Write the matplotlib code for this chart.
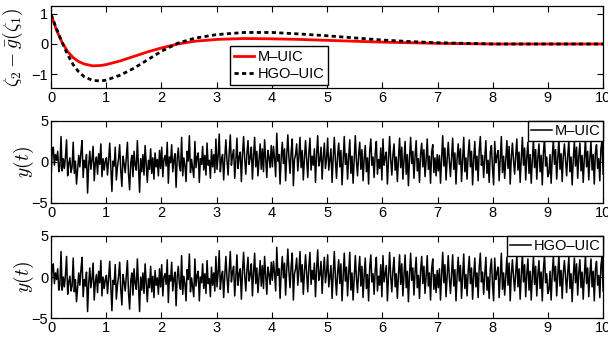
import matplotlib.pyplot as plt
import numpy as np

plt.rcParams['font.family'] = ['Liberation Sans', 'DejaVu Sans']
plt.rcParams['mathtext.fontset'] = 'cm'
plt.rcParams['axes.linewidth'] = 0.9

# top panel: zeta2 - g(zeta1)
t_top = [0, 0.1, 0.2, 0.3, 0.4, 0.5, 0.6, 0.75, 0.9, 1.0, 1.25, 1.5, 1.75, 2.0, 2.3, 2.6,
         3.0, 3.5, 4.0, 4.5, 5.0, 5.5, 6.0, 6.5, 7.0, 7.5, 8.0, 9.0, 10.0]
m_uic = [0.97, 0.45, 0.05, -0.25, -0.45, -0.58, -0.66, -0.72, -0.71, -0.68, -0.56, -0.41, -0.26,
         -0.13, 0.0, 0.09, 0.15, 0.18, 0.17, 0.15, 0.12, 0.09, 0.06, 0.04, 0.02, 0.01, 0.0, 0.0, 0.0]
hgo_uic = [0.97, 0.5, 0.05, -0.35, -0.68, -0.92, -1.08, -1.2, -1.22, -1.19, -1.03, -0.8, -0.52,
           -0.24, 0.03, 0.19, 0.31, 0.38, 0.38, 0.33, 0.27, 0.2, 0.13, 0.08, 0.04, 0.02, 0.0, 0.0, 0.0]

# output y(t), M-UIC (one row per second)
y_m = [
    -2.0, 1.2, 1.8, -0.4, 0.9, 0.2, 1.3, -1.2, -0.5, 3.1, -1.1, 0.4, -0.8, 0.6, 2.7, -1.7, -0.2, 0.5, -1.3, -0.6, 2.4, -1.4, 0.1, -2.7, -0.9, 0.8, -0.6, 1.2, 2.6, -1.9, 0.2, -0.7, 0.9, -3.8, -0.4, 1.3, -0.9, 0.3, 1.9, -2.3, -0.1, 0.6, -1.5, 1.0, -0.3, 2.2, -1.8, 0.4, -1.0, 0.1,
    0.5, -1.6, 0.2, 2.3, -0.8, -3.6, 0.1, -0.5, 1.8, -2.2, -0.6, 0.4, 2.1, -1.1, -3.0, 0.7, -0.2, -1.3, 0.6, 2.4, -1.5, -3.4, -0.1, 0.8, -1.8, 1.3, -0.4, -1.0, 2.6, -0.7, -3.7, 0.4, -1.2, 0.9, -1.6, 2.0, -0.3, -2.5, 0.2, -0.9, 1.6, -1.4, 0.5, -2.1, 1.1, -0.6, 0.3, -1.7, 1.4, -0.8,
    1.8, -1.8, 0.3, 0.8, -0.5, 2.4, -2.6, 0.6, -0.1, 2.1, -1.2, 0.2, 1.0, -3.1, 0.4, 1.7, -0.5, -1.1, 3.0, -1.7, 0.5, -0.4, -2.4, 1.3, 0.1, 3.2, -1.3, 0.3, -0.8, -1.9, 2.5, -0.7, 0.6, 1.1, -2.5, 0.4, -0.3, 1.9, -1.0, 0.8, -1.6, 2.3, -0.4, 0.2, -2.0, 1.5, -0.6, 0.9, -1.3, 2.8,
    -0.9, 0.7, 3.4, -1.2, 0.3, 0.9, -2.2, 0.5, 2.7, 0.2, -1.6, 1.1, 3.3, -0.4, 0.8, 1.5, -2.0, 0.1, 2.9, -0.8, 0.6, 1.2, -2.4, 0.9, 3.1, 0.4, -1.5, 1.0, 2.6, -0.3, 0.5, 1.8, -2.1, 0.7, 3.0, -0.6, 1.3, -1.7, 0.2, 2.2, -0.9, 1.6, -1.2, 2.7, 0.3, -1.9, 1.4, 0.6, -0.7, 2.0,
    -0.6, 1.9, 0.4, -1.8, 3.5, 0.1, 0.9, -2.7, 0.5, 2.4, -0.2, 1.6, -2.3, 0.8, 3.3, 0.5, -1.4, 1.2, 2.8, -2.9, 0.3, 0.9, 2.2, -1.1, 0.6, 3.0, -0.7, 1.4, -2.2, 0.4, 2.6, 0.3, -1.9, 1.1, 2.9, -1.0, 0.7, -0.4, 1.6, -2.5, 0.9, 3.2, -0.5, 0.2, 1.8, -2.1, 0.6, 2.3, -0.8, 0.4,
    2.9, -1.0, 0.3, 1.6, -2.5, 0.5, 3.0, 0.2, -2.0, 0.8, 2.3, -0.6, 1.4, -2.8, 0.1, 3.1, -0.3, 1.0, -2.1, 0.6, 2.7, -1.4, 0.7, -2.6, 0.2, 3.2, 0.1, -1.7, 0.9, 2.4, -0.9, 1.5, -2.3, 0.4, 2.0, -1.2, 0.5, -2.7, 1.3, 2.8, -0.4, 0.6, -1.9, 1.1, 2.5, -1.5, 0.3, -0.8, 1.7, -2.2,
    2.8, -0.4, 0.6, 1.2, -2.7, 0.2, 3.1, 0.3, -1.6, 0.9, 2.2, -1.0, 0.6, -2.4, 0.4, 2.9, -0.7, 1.8, -2.1, 0.3, 2.5, -1.5, 0.9, -2.9, 0.5, 3.0, -0.2, 1.3, -2.0, 0.7, 2.6, -1.1, 0.4, -2.5, 1.0, 2.3, -0.6, 1.5, -1.8, 0.2, 2.8, -0.9, 0.7, -2.6, 1.2, 2.1, -1.3, 0.5, -1.7, 0.9,
    -1.1, 0.8, -2.6, 0.5, 3.2, -0.5, 1.7, -2.2, 0.3, 2.4, 0.1, -1.8, 0.6, 2.9, -0.9, 1.1, -2.7, 0.4, 2.2, -0.3, 1.6, -2.4, 0.2, 3.0, -1.2, 0.5, -2.1, 0.9, 2.7, -0.6, 1.3, -2.8, 0.3, 2.5, -1.0, 0.7, -2.3, 1.4, 3.1, -0.4, 0.8, -1.9, 0.5, 2.6, -1.4, 0.2, -2.5, 1.2, 2.0, -0.7,
    -2.8, 2.5, -0.1, 0.7, 1.4, -2.3, 0.4, 3.1, -1.3, 0.7, -2.0, 0.3, 2.6, -0.8, 1.9, -2.7, 0.5, 2.3, 0.2, -1.5, 0.8, 2.8, -1.0, 1.2, -2.5, 0.4, 3.0, -0.4, 1.7, -2.2, 0.6, 2.4, -1.4, 0.9, -2.6, 0.3, 2.7, -0.7, 1.5, -2.1, 0.5, 2.2, -1.2, 0.8, -2.8, 1.1, 2.9, -0.5, 0.6, -1.8,
    -1.4, 0.9, -2.6, 0.6, 2.7, -0.3, 1.5, -2.1, 0.4, 2.9, -0.9, 1.0, -2.4, 0.7, 2.2, 0.3, -1.7, 0.8, 2.6, -1.2, 0.6, -2.8, 0.3, 2.5, -0.5, 1.8, -2.0, 0.7, 2.3, -1.1, 0.8, -2.5, 0.4, 2.8, -0.6, 1.3, -2.2, 0.5, 2.4, -1.0, 0.9, -2.7, 1.1, 2.1, -0.8, 0.4, -2.3, 1.6, 2.6, -1.5,
]

# output y(t), HGO-UIC (one row per second)
y_h = [
    -2.2, 1.0, 1.6, -0.8, 0.5, -0.3, 1.0, -1.6, -0.9, 3.1, -1.6, 0.0, -1.2, 0.3, 2.5, -2.1, -0.6, 0.1, -1.7, -1.1, 2.3, -1.8, -0.3, -3.0, -1.3, 0.5, -1.0, 0.9, 2.4, -2.4, -0.3, -1.1, 0.6, -4.2, -0.8, 1.1, -1.3, -0.2, 1.7, -2.8, -0.6, 0.3, -1.9, 0.7, -0.7, 2.0, -2.3, 0.0, -1.4, -0.3,
    0.2, -2.0, -0.2, 1.9, -1.2, -4.1, -0.4, -0.9, 1.5, -2.7, -1.0, 0.1, 1.8, -1.5, -3.4, 0.3, -0.6, -1.7, 0.2, 2.0, -1.9, -3.9, -0.5, 0.5, -2.2, 1.0, -0.8, -1.5, 2.2, -1.1, -4.2, 0.0, -1.6, 0.5, -2.0, 1.6, -0.7, -3.0, -0.2, -1.3, 1.3, -1.8, 0.1, -2.5, 0.8, -1.0, -0.1, -2.1, 1.0, -1.2,
    1.5, -2.3, 0.0, 0.4, -0.9, 2.1, -3.1, 0.2, -0.5, 1.8, -1.7, -0.2, 0.6, -3.5, 0.0, 1.3, -0.9, -1.5, 2.6, -2.1, 0.1, -0.8, -2.9, 0.9, -0.3, 2.8, -1.8, -0.1, -1.2, -2.4, 2.2, -1.1, 0.2, 0.7, -2.9, 0.0, -0.7, 1.6, -1.4, 0.4, -2.0, 2.0, -0.8, -0.2, -2.4, 1.2, -1.0, 0.5, -1.7, 2.5,
    -1.2, 0.5, 3.2, -1.5, 0.1, 0.7, -2.5, 0.2, 2.5, 0.0, -1.9, 0.8, 3.1, -0.6, 0.6, 1.3, -2.3, -0.1, 2.7, -1.0, 0.4, 1.0, -2.7, 0.6, 3.0, 0.2, -1.7, 0.8, 2.4, -0.5, 0.3, 1.6, -2.3, 0.5, 2.9, -0.8, 1.1, -1.9, 0.0, 2.0, -1.1, 1.4, -1.4, 2.5, 0.1, -2.1, 1.2, 0.4, -0.9, 1.8,
    -0.4, 1.9, 0.5, -1.7, 3.6, 0.2, 1.0, -2.6, 0.6, 2.5, -0.1, 1.7, -2.2, 0.9, 3.4, 0.6, -1.3, 1.3, 2.9, -2.8, 0.4, 1.0, 2.3, -1.0, 0.7, 3.1, -0.6, 1.5, -2.1, 0.5, 2.7, 0.4, -1.8, 1.2, 3.0, -0.9, 0.8, -0.3, 1.7, -2.4, 1.0, 3.3, -0.4, 0.3, 1.9, -2.0, 0.7, 2.4, -0.7, 0.5,
    2.7, -1.2, 0.1, 1.4, -2.6, 0.3, 3.1, 0.0, -2.2, 0.6, 2.1, -0.8, 1.6, -2.9, -0.1, 2.9, -0.5, 1.2, -2.3, 0.5, 3.0, -1.6, 0.5, -2.8, 0.0, 2.6, -0.1, -1.9, 0.7, 2.5, -1.1, 1.3, -2.5, 0.2, 2.3, -1.4, 0.3, -2.9, 1.1, 2.7, -0.6, 0.4, -2.1, 0.9, 2.4, -1.7, 0.1, -1.0, 1.5, -2.4,
    2.6, -0.6, 0.4, 1.4, -2.9, 0.1, 3.0, 0.1, -1.8, 0.8, 2.4, -1.2, 0.4, -2.6, 0.3, 2.7, -0.9, 1.6, -2.3, 0.2, 2.7, -1.3, 0.7, -3.0, 0.3, 2.9, -0.4, 1.1, -2.2, 0.6, 2.4, -1.3, 0.2, -2.6, 0.8, 2.5, -0.8, 1.3, -2.0, 0.1, 2.6, -1.1, 0.5, -2.8, 1.0, 2.2, -1.5, 0.3, -1.9, 0.8,
    -1.3, 1.0, -2.8, 0.3, 3.0, -0.7, 1.5, -2.4, 0.1, 2.6, -0.1, -2.0, 0.4, 2.7, -1.1, 0.9, -2.9, 0.2, 2.4, -0.5, 1.4, -2.6, 0.0, 2.8, -1.4, 0.3, -2.3, 0.7, 2.5, -0.8, 1.1, -2.7, 0.1, 2.3, -1.2, 0.5, -2.5, 1.2, 2.9, -0.6, 0.6, -2.1, 0.3, 2.4, -1.6, 0.0, -2.6, 1.0, 2.2, -0.9,
    -2.9, 2.3, -0.3, 0.5, 1.2, -2.5, 0.2, 2.9, -1.5, 0.5, -2.2, 0.1, 2.4, -1.0, 1.7, -2.9, 0.3, 2.1, 0.0, -1.7, 0.6, 2.6, -1.2, 1.0, -2.7, 0.2, 2.8, -0.6, 1.5, -2.4, 0.4, 2.2, -1.6, 0.7, -2.8, 0.1, 2.5, -0.9, 1.3, -2.3, 0.3, 2.0, -1.4, 0.6, -2.9, 0.9, 2.7, -0.7, 0.4, -2.0,
    -1.6, 0.7, -2.8, 0.4, 2.5, -0.5, 1.3, -2.3, 0.2, 2.7, -1.1, 0.8, -2.6, 0.5, 2.0, 0.1, -1.9, 0.6, 2.4, -1.4, 0.4, -3.0, 0.1, 2.3, -0.7, 1.6, -2.2, 0.5, 2.1, -1.3, 0.6, -2.7, 0.2, 2.6, -0.8, 1.1, -2.4, 0.3, 2.2, -1.2, 0.7, -2.9, 0.9, 1.9, -1.0, 0.2, -2.5, 1.4, 2.4, -1.7,
]

t_m = np.linspace(0, 10, len(y_m))
t_h = np.linspace(0, 10, len(y_h))

fig = plt.figure(figsize=(6.08, 3.37), dpi=100)
ax1 = fig.add_axes([0.084, 0.739, 0.908, 0.243])
ax2 = fig.add_axes([0.084, 0.398, 0.908, 0.243])
ax3 = fig.add_axes([0.084, 0.056, 0.908, 0.244])

ax1.plot(t_top, m_uic, color='red', lw=2, label='M–UIC')
ax1.plot(t_top, hgo_uic, color='black', lw=2, linestyle=(0, (1.5, 1.2)), label='HGO–UIC')
ax1.set_ylim(-1.45, 1.25)
ax1.set_yticks([-1, 0, 1])
ax1.set_ylabel(r'$\zeta_2-\bar{g}(\zeta_1)$', fontsize=14)
ax1.yaxis.set_label_coords(-0.047, 0.5)
ax1.legend(loc='lower left', bbox_to_anchor=(0.324, 0.035), borderaxespad=0, fontsize=10.5,
           fancybox=False, edgecolor='black', framealpha=1, handlelength=1.4,
           borderpad=0.25, labelspacing=0.25, handletextpad=0.25)

ax2.plot(t_m, y_m, color='black', lw=1.1, label='M–UIC')
ax3.plot(t_h, y_h, color='black', lw=1.1, label='HGO–UIC')
for ax in (ax2, ax3):
    ax.set_ylim(-5, 5)
    ax.set_yticks([-5, 0, 5])
    ax.set_ylabel(r'$y(t)$', fontsize=14)
    ax.yaxis.set_label_coords(-0.027, 0.5)
    ax.legend(loc='upper right', borderaxespad=0, fontsize=10.5, fancybox=False,
              edgecolor='black', framealpha=1, handlelength=1.4, borderpad=0.2,
              handletextpad=0.2)

for ax in (ax1, ax2, ax3):
    ax.set_xlim(0, 10)
    ax.set_xticks(range(11))
    ax.tick_params(direction='in', top=True, right=True, labelsize=10.5, pad=2, length=4)

fig.savefig('out.png', dpi=100)
